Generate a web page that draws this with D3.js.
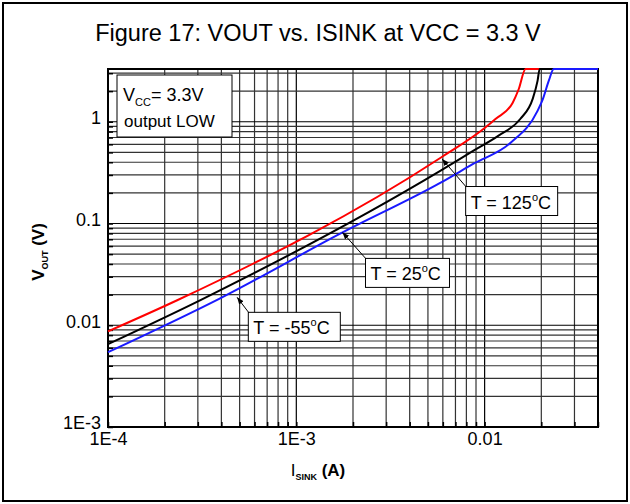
<!DOCTYPE html>
<html>
<head>
<meta charset="utf-8">
<script src="https://cdn.jsdelivr.net/npm/d3@7"></script>
<style>
  body { margin: 0; background: #fff; }
  svg { font-family: "Liberation Sans", Arial, sans-serif; }
</style>
</head>
<body>
<div id="chart"></div>
<script>
// sink current (A) and output voltage (V) for each temperature
var redI   = [1e-4, 2.33e-4, 5.84e-3, 9.89e-3, 0.01146, 0.0141, 0.0152, 0.0165, 0.04];
var redV   = [0.0087, 0.0176, 0.443, 0.853, 1.07, 1.54, 2.11, 3.3, 3.3];
var blackI = [1e-4, 3.08e-4, 5.84e-3, 8.73e-3, 0.01186, 0.0155, 0.0180, 0.0191, 0.0196, 0.04];
var blackV = [0.00652, 0.0176, 0.331, 0.520, 0.730, 1.07, 1.68, 2.52, 3.3, 3.3];
var blueI  = [1e-4, 3.94e-4, 1.76e-3, 5.84e-3, 8.73e-3, 0.01374, 0.0191, 0.0204, 0.0219, 0.0233, 0.04];
var blueV  = [0.00543, 0.0184, 0.0817, 0.252, 0.387, 0.622, 1.28, 1.68, 2.52, 3.3, 3.3];

var xTickVals = [1e-4, 1e-3, 0.01];
var xTickText = ["1E-4", "1E-3", "0.01"];
var yTickVals = [1e-3, 0.01, 0.1, 1];
var yTickText = ["1E-3", "0.01", "0.1", "1"];

// annotations: label, arrow tip (I, V), box corner (I, V)
var notes = [
  { t: "125", tipI: 5.95e-3, tipV: 0.43, boxI: 7.93e-3, boxV: 0.231, w: 92 },
  { t: "25",  tipI: 1.76e-3, tipV: 0.0817, boxI: 2.33e-3, boxV: 0.0454, w: 84 },
  { t: "-55", tipI: 4.85e-4, tipV: 0.0188, boxI: 5.56e-4, boxV: 0.0134, w: 92 }
];

var W = 630, H = 504;
var svg = d3.select("#chart").append("svg").attr("width", W).attr("height", H);

svg.append("rect").attr("x", 3).attr("y", 3).attr("width", 624).attr("height", 498)
  .attr("fill", "none").attr("stroke", "#000").attr("stroke-width", 2);

svg.append("text").attr("x", 318).attr("y", 41).attr("text-anchor", "middle")
  .attr("font-size", 23.5).text("Figure 17: VOUT vs. ISINK at VCC = 3.3 V");

var x = d3.scaleLog().domain([1e-4, 0.04]).range([108, 598]),
    y = d3.scaleLog().domain([1e-3, 3.3]).range([427, 69]);

var isMajor = function (d) { return Math.abs(Math.log10(d) - Math.round(Math.log10(d))) < 1e-6; };

// grid
var grid = svg.append("g");
grid.selectAll("line.v").data(x.ticks()).enter().append("line")
  .attr("x1", function (d) { return x(d); }).attr("x2", function (d) { return x(d); })
  .attr("y1", 69).attr("y2", 427)
  .attr("stroke", function (d) { return isMajor(d) ? "#000" : "#333"; }).attr("stroke-width", 1.2);
grid.selectAll("line.h").data(y.ticks()).enter().append("line")
  .attr("y1", function (d) { return y(d); }).attr("y2", function (d) { return y(d); })
  .attr("x1", 108).attr("x2", 598)
  .attr("stroke", function (d) { return isMajor(d) ? "#000" : "#333"; }).attr("stroke-width", 1.2);

// axes
var xAxis = svg.append("g").attr("transform", "translate(0,427)")
  .call(d3.axisBottom(x).tickValues(x.ticks()).tickSize(-5).tickPadding(5)
    .tickFormat(function (d) { var i = xTickVals.findIndex(function (v) { return Math.abs(v - d) / v < 1e-6; }); return i < 0 ? "" : xTickText[i]; }));
var yAxis = svg.append("g").attr("transform", "translate(108,0)")
  .call(d3.axisLeft(y).tickValues(y.ticks()).tickSize(-5).tickPadding(7)
    .tickFormat(function (d) { var i = yTickVals.findIndex(function (v) { return Math.abs(v - d) / v < 1e-6; }); return i < 0 ? "" : yTickText[i]; }));
[xAxis, yAxis].forEach(function (a) {
  a.select(".domain").remove();
  a.selectAll("line").attr("stroke", "#000").attr("stroke-width", 1.5);
  a.selectAll("text").attr("font-size", 18).attr("fill", "#000").attr("font-family", "Liberation Sans, Arial, sans-serif");
});
yAxis.selectAll("text").attr("dy", "0.1em");

// frame
svg.append("rect").attr("x", 108).attr("y", 69).attr("width", 490).attr("height", 358)
  .attr("fill", "none").attr("stroke", "#000").attr("stroke-width", 2);

// curves
var line = d3.line().x(function (d) { return x(d[0]); }).y(function (d) { return y(d[1]); })
  .curve(d3.curveMonotoneX);
var series = [
  { I: redI, V: redV, c: "#ff0000" },
  { I: blackI, V: blackV, c: "#000000" },
  { I: blueI, V: blueV, c: "#1a1aff" }
];
svg.selectAll("path.curve").data(series).enter().append("path")
  .attr("class", "curve")
  .attr("d", function (s) { return line(d3.zip(s.I, s.V)); })
  .attr("fill", "none").attr("stroke", function (s) { return s.c; }).attr("stroke-width", 2);

// conditions box
var box = svg.append("g");
box.append("rect").attr("x", 117).attr("y", 75).attr("width", 115).attr("height", 62)
  .attr("fill", "#fff").attr("stroke", "#000").attr("stroke-width", 1);
var t1 = box.append("text").attr("x", 123).attr("y", 101).attr("font-size", 18);
t1.append("tspan").text("V");
t1.append("tspan").attr("font-size", 11).attr("dy", 5).text("CC");
t1.append("tspan").attr("dy", -5).text("= 3.3V");
box.append("text").attr("x", 124).attr("y", 127).attr("font-size", 17).text("output LOW");

// annotations
svg.append("defs").append("marker").attr("id", "ah").attr("viewBox", "0 0 10 10")
  .attr("refX", 10).attr("refY", 5).attr("markerWidth", 7).attr("markerHeight", 7)
  .attr("orient", "auto").append("path").attr("d", "M0,1L10,5L0,9z").attr("fill", "#000");
var ann = svg.selectAll("g.note").data(notes).enter().append("g");
ann.append("line")
  .attr("x1", function (d) { return x(d.boxI) + 1; }).attr("y1", function (d) { return y(d.boxV) + 1; })
  .attr("x2", function (d) { return x(d.tipI); }).attr("y2", function (d) { return y(d.tipV); })
  .attr("stroke", "#000").attr("stroke-width", 1).attr("marker-end", "url(#ah)");
ann.append("rect")
  .attr("x", function (d) { return x(d.boxI); }).attr("y", function (d) { return y(d.boxV); })
  .attr("width", function (d) { return d.w; }).attr("height", 29)
  .attr("fill", "#fff").attr("stroke", "#000").attr("stroke-width", 1);
var at = ann.append("text")
  .attr("x", function (d) { return x(d.boxI) + 5; }).attr("y", function (d) { return y(d.boxV) + 22; })
  .attr("font-size", 18);
at.append("tspan").text(function (d) { return "T = " + d.t; });
at.append("tspan").attr("font-size", 11).attr("dy", -8).text("o");
at.append("tspan").attr("dy", 8).text("C");

// axis titles
var xl = svg.append("text").attr("x", 318).attr("y", 476).attr("text-anchor", "middle")
  .attr("font-size", 17).attr("font-weight", "bold");
xl.append("tspan").attr("font-weight", "normal").text("I");
xl.append("tspan").attr("font-size", 9).attr("dy", 4).text("SINK");
xl.append("tspan").attr("dy", -4).text(" (A)");
var yl = svg.append("text").attr("transform", "translate(44,252) rotate(-90)")
  .attr("text-anchor", "middle").attr("font-size", 17).attr("font-weight", "bold");
yl.append("tspan").text("V");
yl.append("tspan").attr("font-size", 9).attr("dy", 4).text("OUT");
yl.append("tspan").attr("dy", -4).text(" (V)");
</script>
</body>
</html>
